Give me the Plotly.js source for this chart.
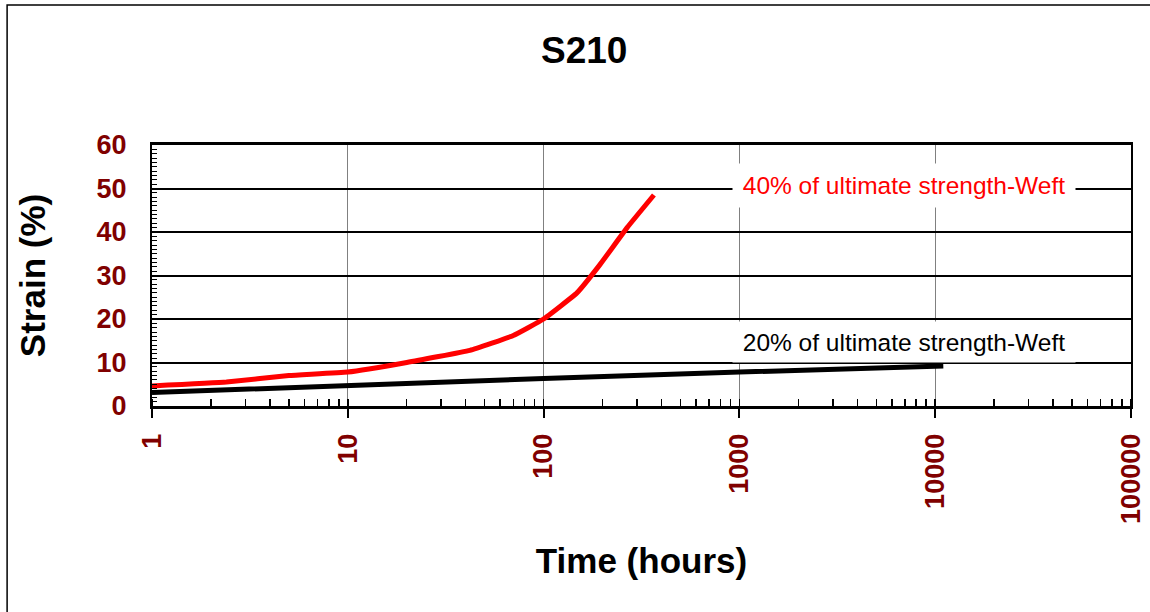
<!DOCTYPE html>
<html><head><meta charset="utf-8">
<script src="https://cdn.plot.ly/plotly-3.0.1.min.js"></script>
<style>html,body{margin:0;padding:0;background:#fff}#chart{width:1150px;height:612px}</style>
</head><body><div id="chart"></div>
<script>
// Data
const timeRed   = [1, 2.4, 5, 10, 20, 42, 70, 100, 148, 194, 267, 366];
const strainRed = [4.6, 5.5, 7.0, 7.8, 10.0, 12.8, 16.2, 20.0, 26.0, 32.5, 41.0, 48.5];
const timeBlack   = [1, 10, 100, 1000, 3200, 11000];
const strainBlack = [3.1, 4.8, 6.3, 7.8, 8.6, 9.2];
const xTickVals = [1, 10, 100, 1000, 10000, 100000];
const xTickText = ['1', '10', '100', '1000', '10000', '100000'];
const labelRed = '40% of ultimate strength-Weft';
const labelBlack = '20% of ultimate strength-Weft';

const tickFont = {family: 'Liberation Sans, Arial, sans-serif', size: 27, color: '#800000', weight: 'bold'};
const titleFont = {family: 'Liberation Sans, Arial, sans-serif', size: 35, color: '#000', weight: 'bold'};

const traces = [
  {x: timeBlack, y: strainBlack, type: 'scatter', mode: 'lines', name: labelBlack,
   line: {color: '#000000', width: 5}},
  {x: timeRed, y: strainRed, type: 'scatter', mode: 'lines', name: labelRed,
   line: {color: '#ff0000', width: 5, shape: 'spline', smoothing: 0.3}}
];

const layout = {
  width: 1150, height: 612,
  margin: {l: 152, r: 19, t: 145, b: 206},
  paper_bgcolor: '#fff', plot_bgcolor: '#fff',
  showlegend: false,
  title: {text: 'S210', font: {family: 'Liberation Sans, Arial, sans-serif', size: 37, weight: 'bold', color: '#000'},
          x: 0.508, xanchor: 'center', y: 0.918, yanchor: 'middle'},
  xaxis: {
    type: 'log', range: [0, 5],
    tickvals: xTickVals, ticktext: xTickText, tickangle: -90,
    tickfont: tickFont, ticks: 'outside', ticklen: 9, tickwidth: 2, tickcolor: '#000',
    ticklabelstandoff: 5,
    showgrid: true, gridcolor: '#808080', gridwidth: 1,
    showline: true, linecolor: '#000', linewidth: 3, mirror: true,
    zeroline: false,
    minor: {ticks: 'inside', ticklen: 7, tickwidth: 1.5, tickcolor: '#000', dtick: 'D1', showgrid: false},
    title: {text: 'Time (hours)', font: titleFont, standoff: 26}
  },
  yaxis: {
    range: [0, 60], dtick: 10, tick0: 0,
    tickfont: tickFont, ticks: 'inside', ticklen: 7, tickwidth: 2, tickcolor: '#000',
    ticklabelstandoff: 18,
    showgrid: true, gridcolor: '#000', gridwidth: 2,
    showline: true, linecolor: '#000', linewidth: 2, mirror: true,
    zeroline: false,
    minor: {ticks: 'inside', ticklen: 5, tickwidth: 1, tickcolor: '#000', dtick: 1, showgrid: false},
    title: {text: 'Strain (%)', font: titleFont, standoff: 40}
  },
  annotations: [
    {xref: 'paper', yref: 'paper', x: 0.768, y: 0.843, xanchor: 'center', yanchor: 'middle',
     text: labelRed, showarrow: false, bgcolor: '#fff', width: 342, height: 43, borderpad: 0,
     font: {family: 'Liberation Sans, Arial, sans-serif', size: 24.5, color: '#ff0000'}},
    {xref: 'paper', yref: 'paper', x: 0.768, y: 0.247, xanchor: 'center', yanchor: 'middle',
     text: labelBlack, showarrow: false, bgcolor: '#fff', width: 342, height: 40, borderpad: 0,
     font: {family: 'Liberation Sans, Arial, sans-serif', size: 24.5, color: '#000'}}
  ],
  shapes: [
    {type: 'rect', xref: 'paper', yref: 'paper', x0: -0.148, x1: 1.2, y0: -1.2, y1: 1.536,
     line: {color: '#000', width: 1.5}, fillcolor: 'rgba(0,0,0,0)', layer: 'below'}
  ]
};

Plotly.newPlot('chart', traces, layout, {staticPlot: true, displayModeBar: false});
</script>
</body></html>
